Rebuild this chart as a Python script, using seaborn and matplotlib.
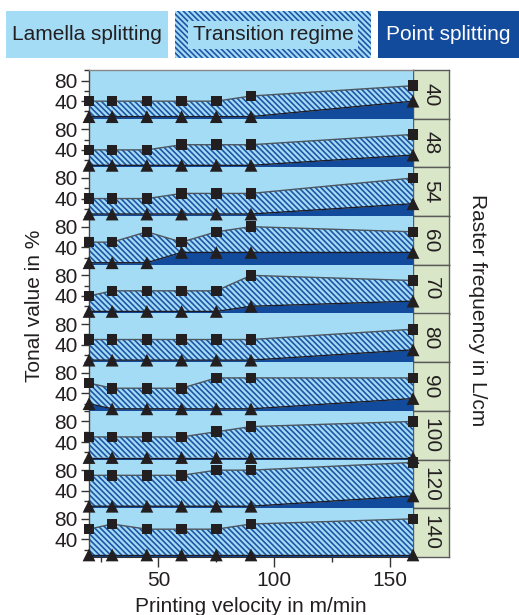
import matplotlib
matplotlib.use("Agg")
import matplotlib.pyplot as plt
import seaborn as sns
from matplotlib.patches import Rectangle
from matplotlib.ticker import FixedLocator

# Printing velocity in m/min
velocity = [20, 30, 45, 60, 75, 90, 160]
# Raster frequency in L/cm, one panel each
raster = [40, 48, 54, 60, 70, 80, 90, 100, 120, 140]
# Upper limit of the transition regime (squares), tonal value in %
upper_limit = [
    [40, 40, 40, 40, 40, 50, 70],
    [40, 40, 40, 50, 50, 50, 70],
    [40, 40, 40, 50, 50, 50, 80],
    [50, 50, 70, 50, 70, 80, 70],
    [40, 50, 50, 50, 50, 80, 70],
    [50, 50, 50, 50, 50, 50, 70],
    [60, 50, 50, 50, 70, 70, 70],
    [50, 50, 50, 50, 60, 70, 80],
    [70, 70, 70, 70, 80, 80, 95],
    [60, 70, 60, 60, 60, 70, 80],
]
# Lower limit of the transition regime (triangles), tonal value in %
lower_limit = [
    [10, 10, 10, 10, 10, 10, 40],
    [10, 10, 10, 10, 10, 10, 30],
    [10, 10, 10, 10, 10, 10, 30],
    [10, 10, 10, 30, 30, 30, 30],
    [10, 10, 10, 10, 10, 20, 30],
    [10, 10, 10, 10, 10, 10, 30],
    [20, 10, 10, 10, 10, 10, 30],
    [10, 10, 10, 10, 10, 10, 10],
    [10, 10, 10, 10, 10, 10, 30],
    [10, 10, 10, 10, 10, 10, 10],
]
regimes = ["Lamella splitting", "Transition regime", "Point splitting"]

LIGHT = "#a4dcf6"
DARK = "#124a9c"
HATCH = "#1f55a5"
GREEN = "#d9e6c8"
TXT = "#231f20"
HATCH_PAT = "\\" * 6

sns.set_style("ticks")
plt.rcParams["font.family"] = ["Liberation Sans", "DejaVu Sans"]
plt.rcParams["hatch.color"] = HATCH
plt.rcParams["hatch.linewidth"] = 1.2

W, H = 519, 615
fig = plt.figure(figsize=(W / 100, H / 100), dpi=100)


def fx(px):
    return px / W


def fy(py):
    return 1 - py / H


x0, x1, xlab = 89, 413, 449
top0, bot = 70, 557
ph = (bot - top0) / len(raster)
XLIM = (20, 160)
YMIN, YMAX = 6, 100.5

for i, r in enumerate(raster):
    t = top0 + i * ph
    rect = [fx(x0), fy(t + ph), fx(x1 - x0), ph / H]
    ax = fig.add_axes(rect)
    lab = fig.add_axes([fx(x1), fy(t + ph), fx(xlab - x1), ph / H])
    # transparent layer on top of every panel for the limit lines and markers
    top = fig.add_axes(rect)
    ax.set_zorder(2)
    lab.set_zorder(1)
    top.set_zorder(10)

    up = upper_limit[i]
    lo = lower_limit[i]
    ax.set_facecolor(LIGHT)
    ax.fill_between(velocity, YMIN - 5, lo, color=DARK, lw=0, zorder=1)
    ax.fill_between(velocity, lo, up, facecolor=LIGHT, edgecolor=HATCH,
                    hatch=HATCH_PAT, lw=0, zorder=1)

    sns.lineplot(x=velocity, y=up, ax=top, color="#4b5660", lw=1.0, zorder=2)
    sns.lineplot(x=velocity, y=lo, ax=top, color="#1c1c28", lw=1.0, zorder=2)
    sns.scatterplot(x=velocity, y=up, ax=top, marker="s", s=58, color=TXT,
                    edgecolor="none", linewidth=0, zorder=3, clip_on=False)
    sns.scatterplot(x=velocity, y=lo, ax=top, marker="^", s=85, color=TXT,
                    edgecolor="none", linewidth=0, zorder=3, clip_on=False)
    top.set_xlim(*XLIM)
    top.set_ylim(YMIN, YMAX)
    top.axis("off")

    ax.set_xlim(*XLIM)
    ax.set_ylim(YMIN, YMAX)
    ax.set_xlabel("")
    ax.set_ylabel("")
    ax.yaxis.set_major_locator(FixedLocator([40, 80]))
    ax.yaxis.set_minor_locator(FixedLocator([20, 60, 100]))
    ax.tick_params(axis="y", which="major", length=6, width=1,
                   color="#333333", labelsize=15, labelcolor=TXT, pad=2)
    ax.tick_params(axis="y", which="minor", length=3.5, width=1,
                   color="#333333")
    for s in ["top", "right", "bottom"]:
        ax.spines[s].set_visible(False)
    ax.spines["left"].set_color("#444444")
    ax.spines["left"].set_linewidth(1.0)
    if i == 0:
        ax.spines["top"].set_visible(True)
        ax.spines["top"].set_color("#888888")
        ax.spines["top"].set_linewidth(1.0)
    if i == len(raster) - 1:
        ax.spines["bottom"].set_visible(True)
        ax.spines["bottom"].set_color("#333333")
        ax.xaxis.set_major_locator(FixedLocator([50, 100, 150]))
        ax.xaxis.set_minor_locator(FixedLocator([25, 75, 125]))
        ax.tick_params(axis="x", which="major", length=7, width=1,
                       color="#333333", labelsize=15, labelcolor=TXT, pad=3)
        ax.tick_params(axis="x", which="minor", length=3.5, width=1,
                       color="#333333")
        ax.set_xlabel("Printing velocity in m/min", fontsize=15, color=TXT,
                      labelpad=5)
    else:
        ax.tick_params(axis="x", which="both", bottom=False,
                       labelbottom=False)

    lab.set_facecolor(GREEN)
    lab.set_xticks([])
    lab.set_yticks([])
    for s in lab.spines.values():
        s.set_color("#5a5a5a")
        s.set_linewidth(1.0)
    lab.text(0.5, 0.5, str(r), rotation=270, ha="center", va="center",
             fontsize=15, color=TXT, transform=lab.transAxes)

fig.text(fx(35), fy(306), "Tonal value in %", rotation=90, ha="center",
         va="center", fontsize=15, color=TXT)
fig.text(fx(478), fy(310), "Raster frequency in L/cm", rotation=270,
         ha="center", va="center", fontsize=15, color=TXT)

# Regime key along the top
boxes = [(6, 168), (175, 371), (378, 520)]
for (bx0, bx1), name in zip(boxes, regimes):
    rect_kw = dict(transform=fig.transFigure, lw=0)
    if name == "Lamella splitting":
        patch = Rectangle((fx(bx0), fy(58)), fx(bx1 - bx0), 47 / H,
                          facecolor=LIGHT, **rect_kw)
        tc, bbox = TXT, None
    elif name == "Transition regime":
        patch = Rectangle((fx(bx0), fy(58)), fx(bx1 - bx0), 47 / H,
                          facecolor=LIGHT, edgecolor=HATCH, hatch=HATCH_PAT,
                          **rect_kw)
        tc = TXT
        bbox = dict(facecolor=LIGHT, edgecolor="none", pad=3)
    else:
        patch = Rectangle((fx(bx0), fy(58)), fx(bx1 - bx0), 47 / H,
                          facecolor=DARK, **rect_kw)
        tc, bbox = "white", None
    fig.add_artist(patch)
    fig.text(fx((bx0 + min(bx1, 519)) / 2), fy(35), name, ha="center",
             va="center", fontsize=15, color=tc, bbox=bbox)

fig.savefig("out.png", dpi=100)
